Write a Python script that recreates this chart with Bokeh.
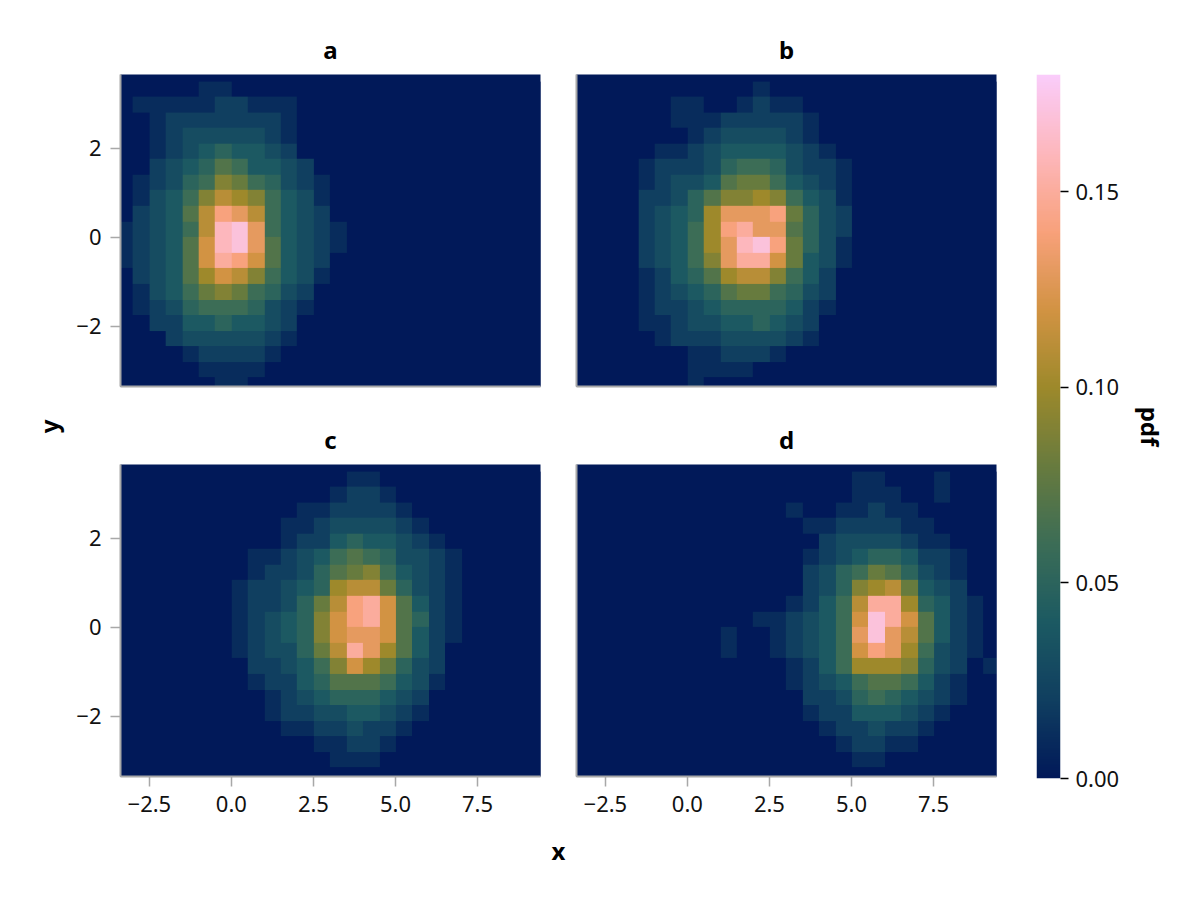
import numpy as np
from bokeh.plotting import figure
from bokeh.layouts import row, column
from bokeh.models import Range1d, LinearColorMapper, FixedTicker, Label
from bokeh.embed import file_html
from bokeh.resources import INLINE

# ---------------- data (pdf x 100), grid cells 0.5 wide in x, 0.35 tall in y ----------------
x_edge0 = -3.5
x_step = 0.5
n_cols = 26
y_edge0 = -3.5
y_step = 0.35
n_rows = 20          # rows listed top (y=3.5) to bottom (y=-3.5)

a_col0 = 0
a_grid = [
    [0, 0, 0, 0, 0, 1, 1, 0, 0, 0, 0, 0, 0, 0],
    [0, 1, 1, 1, 1, 1, 2, 2, 1, 1, 1, 0, 0, 0],
    [0, 0, 1, 2, 2, 2, 2, 2, 2, 2, 1, 0, 0, 0],
    [0, 0, 1, 2, 3, 3, 3, 3, 3, 2, 1, 0, 0, 0],
    [0, 0, 1, 2, 3, 4, 5, 4, 4, 3, 2, 0, 0, 0],
    [0, 0, 2, 3, 4, 5, 7, 6, 4, 4, 3, 2, 0, 0],
    [0, 1, 2, 3, 5, 6, 9, 8, 6, 5, 3, 2, 1, 0],
    [0, 1, 3, 4, 6, 9, 11, 10, 9, 6, 4, 3, 1, 0],
    [0, 2, 3, 4, 7, 11, 14, 13, 11, 6, 4, 3, 2, 0],
    [1, 2, 3, 4, 6, 11, 16, 17, 13, 6, 4, 3, 2, 1],
    [1, 2, 3, 4, 7, 12, 16, 17, 13, 7, 4, 3, 2, 1],
    [1, 2, 3, 4, 7, 12, 15, 14, 12, 7, 4, 3, 2, 0],
    [0, 2, 3, 4, 7, 10, 12, 11, 9, 6, 4, 3, 1, 0],
    [0, 1, 3, 4, 6, 8, 9, 8, 6, 5, 3, 2, 0, 0],
    [0, 1, 2, 3, 5, 6, 6, 6, 5, 3, 2, 1, 0, 0],
    [0, 0, 2, 2, 4, 4, 5, 4, 4, 3, 2, 0, 0, 0],
    [0, 0, 0, 2, 3, 3, 3, 3, 3, 2, 1, 0, 0, 0],
    [0, 0, 0, 0, 1, 2, 2, 2, 2, 1, 0, 0, 0, 0],
    [0, 0, 0, 0, 0, 1, 1, 1, 1, 0, 0, 0, 0, 0],
    [0, 0, 0, 0, 0, 0, 1, 1, 0, 0, 0, 0, 0, 0],
]

b_col0 = 4
b_grid = [
    [0, 0, 0, 0, 0, 0, 0, 1, 0, 0, 0, 0, 0],
    [0, 0, 1, 1, 0, 0, 1, 2, 1, 1, 0, 0, 0],
    [0, 0, 1, 1, 1, 2, 2, 2, 2, 2, 1, 0, 0],
    [0, 0, 0, 1, 2, 3, 3, 3, 3, 2, 1, 0, 0],
    [0, 1, 1, 2, 3, 4, 4, 4, 4, 3, 2, 1, 0],
    [1, 2, 2, 2, 3, 5, 6, 6, 5, 3, 2, 2, 1],
    [1, 2, 3, 3, 4, 7, 8, 8, 6, 4, 3, 2, 1],
    [2, 2, 3, 5, 7, 9, 9, 10, 9, 6, 4, 3, 1],
    [2, 3, 4, 5, 10, 13, 13, 13, 14, 8, 5, 3, 2],
    [2, 3, 4, 6, 10, 14, 15, 13, 13, 7, 5, 3, 2],
    [2, 3, 4, 6, 10, 13, 16, 17, 14, 8, 5, 3, 1],
    [2, 3, 4, 6, 9, 13, 15, 15, 12, 8, 4, 3, 1],
    [1, 2, 4, 5, 7, 10, 11, 11, 9, 6, 4, 2, 0],
    [1, 2, 3, 4, 5, 7, 8, 8, 6, 5, 3, 2, 0],
    [1, 2, 2, 3, 4, 5, 5, 5, 5, 4, 2, 1, 0],
    [1, 1, 2, 3, 3, 4, 4, 5, 4, 3, 2, 0, 0],
    [0, 1, 2, 2, 2, 3, 3, 3, 3, 2, 1, 0, 0],
    [0, 0, 0, 1, 1, 2, 2, 2, 1, 0, 0, 0, 0],
    [0, 0, 0, 1, 1, 1, 1, 0, 0, 0, 0, 0, 0],
    [0, 0, 0, 1, 0, 0, 0, 0, 0, 0, 0, 0, 0],
]

c_col0 = 7
c_grid = [
    [0, 0, 0, 0, 0, 0, 0, 1, 1, 0, 0, 0, 0, 0],
    [0, 0, 0, 0, 0, 0, 1, 2, 2, 1, 0, 0, 0, 0],
    [0, 0, 0, 0, 1, 1, 2, 2, 2, 2, 1, 0, 0, 0],
    [0, 0, 0, 1, 1, 2, 3, 3, 3, 3, 2, 1, 0, 0],
    [0, 0, 0, 1, 2, 2, 4, 5, 4, 4, 3, 2, 1, 0],
    [0, 1, 1, 2, 3, 4, 6, 7, 6, 5, 3, 3, 2, 1],
    [0, 1, 2, 2, 3, 5, 7, 8, 9, 6, 4, 3, 2, 1],
    [1, 2, 2, 3, 4, 5, 10, 11, 11, 8, 5, 3, 2, 1],
    [1, 2, 2, 3, 5, 8, 11, 14, 15, 12, 7, 4, 2, 1],
    [1, 2, 3, 4, 5, 9, 12, 14, 15, 12, 7, 5, 2, 1],
    [1, 2, 3, 4, 5, 9, 12, 13, 13, 12, 7, 4, 2, 1],
    [1, 2, 3, 3, 5, 8, 11, 15, 13, 10, 7, 4, 2, 0],
    [0, 2, 2, 3, 4, 6, 9, 12, 10, 8, 5, 3, 2, 0],
    [0, 1, 2, 2, 4, 5, 7, 7, 7, 6, 4, 3, 1, 0],
    [0, 0, 1, 2, 3, 4, 5, 5, 5, 4, 3, 2, 0, 0],
    [0, 0, 1, 2, 2, 3, 3, 4, 4, 3, 2, 1, 0, 0],
    [0, 0, 0, 1, 1, 2, 2, 3, 2, 2, 1, 0, 0, 0],
    [0, 0, 0, 0, 0, 1, 1, 2, 2, 1, 0, 0, 0, 0],
    [0, 0, 0, 0, 0, 0, 1, 1, 1, 0, 0, 0, 0, 0],
    [0, 0, 0, 0, 0, 0, 0, 0, 0, 0, 0, 0, 0, 0],
]

d_col0 = 9
d_grid = [
    [0, 0, 0, 0, 0, 0, 0, 0, 1, 1, 0, 0, 0, 1, 0, 0, 0],
    [0, 0, 0, 0, 0, 0, 0, 0, 1, 1, 1, 0, 0, 1, 0, 0, 0],
    [0, 0, 0, 0, 1, 0, 0, 1, 1, 2, 1, 1, 0, 0, 0, 0, 0],
    [0, 0, 0, 0, 0, 1, 1, 2, 2, 2, 2, 1, 1, 0, 0, 0, 0],
    [0, 0, 0, 0, 0, 0, 2, 3, 3, 3, 3, 2, 1, 1, 0, 0, 0],
    [0, 0, 0, 0, 0, 1, 2, 3, 4, 5, 5, 4, 2, 2, 1, 0, 0],
    [0, 0, 0, 0, 0, 2, 3, 5, 6, 8, 7, 5, 3, 2, 1, 0, 0],
    [0, 0, 0, 0, 0, 2, 3, 5, 9, 10, 11, 8, 4, 3, 2, 0, 0],
    [0, 0, 0, 0, 1, 2, 4, 6, 11, 15, 15, 10, 5, 4, 2, 1, 0],
    [0, 0, 1, 1, 2, 3, 4, 6, 12, 17, 15, 12, 7, 4, 2, 1, 0],
    [1, 0, 0, 1, 2, 3, 4, 6, 13, 17, 13, 11, 7, 4, 2, 1, 0],
    [1, 0, 0, 1, 2, 3, 4, 6, 12, 14, 13, 10, 6, 3, 2, 1, 0],
    [0, 0, 0, 0, 1, 2, 4, 6, 10, 10, 10, 9, 5, 3, 2, 0, 1],
    [0, 0, 0, 0, 1, 2, 3, 4, 6, 7, 7, 6, 4, 2, 1, 0, 0],
    [0, 0, 0, 0, 0, 2, 2, 3, 5, 6, 5, 4, 3, 2, 1, 0, 0],
    [0, 0, 0, 0, 0, 1, 2, 2, 4, 4, 4, 3, 2, 1, 0, 0, 0],
    [0, 0, 0, 0, 0, 0, 1, 2, 2, 3, 2, 2, 1, 0, 0, 0, 0],
    [0, 0, 0, 0, 0, 0, 0, 1, 2, 2, 1, 1, 0, 0, 0, 0, 0],
    [0, 0, 0, 0, 0, 0, 0, 0, 1, 1, 0, 0, 0, 0, 0, 0, 0],
    [0, 0, 0, 0, 0, 0, 0, 0, 0, 0, 0, 0, 0, 0, 0, 0, 0],
]

x_ticks = [-2.5, 0.0, 2.5, 5.0, 7.5]
x_tick_labels = ["\u22122.5", "0.0", "2.5", "5.0", "7.5"]
y_ticks = [-2, 0, 2]
y_tick_labels = ["\u22122", "0", "2"]
cb_ticks = [0.0, 0.05, 0.10, 0.15]
cb_tick_labels = ["0.00", "0.05", "0.10", "0.15"]
pdf_max = 0.18
x_limits = (-3.38, 9.42)
y_limits = (-3.35, 3.66)

# ---------------- style ----------------
FONT = "Noto Sans"
SPINE = "#a8a8a8"
batlow_anchors = ["#011959", "#103F60", "#1C5A62", "#3C6D56", "#687B3E",
                  "#9D892B", "#D29343", "#F8A17B", "#FDB7BC", "#FACCFA"]


def _hex(c):
    return np.array([int(c[i:i + 2], 16) for i in (1, 3, 5)], float)


anch = np.array([_hex(c) for c in batlow_anchors])
t_anch = np.linspace(0, 1, len(anch))
t = np.linspace(0, 1, 256)
palette = []
for ti in t:
    rgb = [np.interp(ti, t_anch, anch[:, k]) for k in range(3)]
    palette.append("#%02x%02x%02x" % tuple(int(round(v)) for v in rgb))

mapper = LinearColorMapper(palette=palette, low=0.0, high=pdf_max)


def full_grid(col0, grid):
    z = np.zeros((n_rows, n_cols))
    g = np.array(grid, float) / 100.0
    z[:, col0:col0 + g.shape[1]] = g
    return np.flipud(z)


XR = Range1d(*x_limits)
YR = Range1d(*y_limits)


def panel(name, col0, grid, show_x, show_y, mb_left, mb_right, mb_top, mb_bottom):
    p = figure(x_range=XR, y_range=YR, frame_width=420, frame_height=312,
               min_border_left=mb_left, min_border_right=mb_right,
               min_border_top=mb_top, min_border_bottom=mb_bottom,
               output_backend="svg", toolbar_location=None,
               background_fill_color=palette[0], border_fill_color="white")
    z = full_grid(col0, grid)
    p.image(image=[z], x=x_edge0, y=y_edge0, dw=n_cols * x_step, dh=n_rows * y_step,
            color_mapper=mapper)
    p.grid.visible = False
    p.outline_line_color = None
    p.title.text = name
    p.title.align = "center"
    p.title.text_font = FONT
    p.title.text_font_size = "24px"
    p.title.text_font_style = "bold"
    p.title.text_color = "black"
    p.title.standoff = 18
    for ax in (p.xaxis[0], p.yaxis[0]):
        ax.axis_line_color = SPINE
        ax.axis_line_width = 2
        ax.major_tick_line_color = SPINE
        ax.major_tick_line_width = 1.5
        ax.major_tick_out = 10
        ax.major_tick_in = 0
        ax.minor_tick_line_color = None
        ax.major_label_text_font = FONT
        ax.major_label_text_font_size = "22px"
        ax.major_label_text_color = "#111111"
        ax.major_label_standoff = 9
    if show_x:
        p.xaxis.ticker = FixedTicker(ticks=x_ticks)
        p.xaxis.major_label_overrides = dict(zip(x_ticks, x_tick_labels))
    else:
        p.xaxis.ticker = FixedTicker(ticks=[])
    if show_y:
        p.yaxis.ticker = FixedTicker(ticks=y_ticks)
        p.yaxis.major_label_overrides = dict(zip(y_ticks, y_tick_labels))
    else:
        p.yaxis.ticker = FixedTicker(ticks=[])
    return p


YLAB_W = 72
TOTAL_H = 888
XLAB_H = 60
pa = panel("a", a_col0, a_grid, False, True, 120 - YLAB_W, 18, 74, 25)
pb = panel("b", b_col0, b_grid, False, False, 18, 10, 74, 25)
pc = panel("c", c_col0, c_grid, True, True, 120 - YLAB_W, 18, 40, 50)
pd_ = panel("d", d_col0, d_grid, True, False, 18, 10, 40, 50)


def label_fig(w, h, txt, x, y, angle):
    f = figure(width=w, height=h, x_range=Range1d(0, w), y_range=Range1d(0, h),
               min_border=0, output_backend="svg", toolbar_location=None)
    f.axis.visible = False
    f.grid.visible = False
    f.outline_line_color = None
    f.add_layout(Label(x=x, y=y, text=txt, angle=angle, text_font=FONT,
                       text_font_size="24px", text_font_style="bold", text_color="black",
                       text_align="center", text_baseline="middle"))
    return f


ylab = label_fig(YLAB_W, TOTAL_H, "y", 48, TOTAL_H - 444, np.pi / 2)
xlab = label_fig(938, XLAB_H, "x", 558 - YLAB_W, XLAB_H - 24, 0)

cb = figure(x_range=Range1d(0, 1), y_range=Range1d(0, pdf_max), frame_width=24, frame_height=704,
            min_border_left=26, min_border_right=136, min_border_top=74,
            min_border_bottom=TOTAL_H - 778,
            y_axis_location="right", output_backend="svg", toolbar_location=None)
cb.image(image=[np.linspace(0, pdf_max, 512).reshape(512, 1)], x=0, y=0, dw=1, dh=pdf_max,
         color_mapper=mapper)
cb.grid.visible = False
cb.outline_line_color = None
cb.xaxis.visible = False
ay = cb.yaxis[0]
ay.ticker = FixedTicker(ticks=cb_ticks)
ay.major_label_overrides = dict(zip(cb_ticks, cb_tick_labels))
ay.axis_line_color = None
ay.major_tick_line_color = "black"
ay.major_tick_line_width = 1.5
ay.major_tick_out = 8
ay.major_tick_in = 0
ay.minor_tick_line_color = None
ay.major_label_text_font = FONT
ay.major_label_text_font_size = "22px"
ay.major_label_text_color = "#111111"
ay.major_label_standoff = 7
ay.axis_label = "pdf"
ay.axis_label_text_font = FONT
ay.axis_label_text_font_size = "24px"
ay.axis_label_text_font_style = "bold"
ay.axis_label_text_color = "black"
ay.axis_label_standoff = 12

layout = row(ylab, column(row(pa, pb), row(pc, pd_), xlab), cb)

open("out.html", "w").write(file_html(layout, INLINE))
